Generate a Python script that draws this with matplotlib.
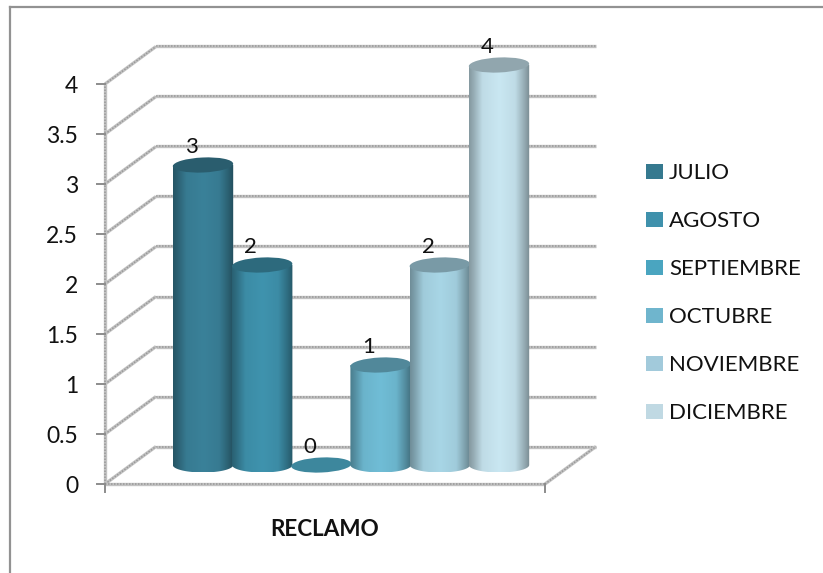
import numpy as np
import matplotlib
matplotlib.use('Agg')
import matplotlib.pyplot as plt
from matplotlib.patches import Ellipse, PathPatch, Rectangle
from matplotlib.path import Path
from matplotlib.colors import LinearSegmentedColormap, to_rgb
from matplotlib.transforms import Affine2D

plt.rcParams['font.family'] = ['Lato', 'DejaVu Sans']

# datos
meses = ['JULIO', 'AGOSTO', 'SEPTIEMBRE', 'OCTUBRE', 'NOVIEMBRE', 'DICIEMBRE']
reclamos = [3, 2, 0, 1, 2, 4]
yticks = [0, 0.5, 1, 1.5, 2, 2.5, 3, 3.5, 4]
ytick_labels = ['0', '0.5', '1', '1.5', '2', '2.5', '3', '3.5', '4']
colores = ['#35798f', '#3f91ac', '#4aa5c0', '#6fb5cd', '#a2cadb', '#c0d9e3']
colores_cuerpo = ['#3a8199', '#3f93ae', '#4aa5c0', '#70bdd6', '#a8d6e6', '#c9e7f2']
categoria = 'RECLAMO'

W, H = 823, 573
fig = plt.figure(figsize=(W / 100, H / 100), dpi=100)
ax = fig.add_axes([0, 0, 1, 1])

# escala: y en unidades del dato (100 px por unidad), x en posiciones de barra
PX_X = 59.2
PX_Y = 100.0
X0 = 203.0
Y0 = 484.0


def fijar_limites():
    ax.set_xlim(-X0 / PX_X, (W - X0) / PX_X)
    ax.set_ylim((Y0 - H) / PX_Y, Y0 / PX_Y)


fijar_limites()
ax.axis('off')

# caja 3d
x_front_l = (105 - X0) / PX_X
x_front_r = (545 - X0) / PX_X
dx = 51 / PX_X
dy = 37.5 / PX_Y
GRID = '#c2c2c2'
GRID_EDGE = '#989898'
TXT = '#111111'


def linea(xs, ys, lw=2.4, z=1):
    ax.plot(xs, ys, color=GRID, lw=lw, solid_capstyle='butt', zorder=z)
    ax.plot(xs, ys, color=GRID_EDGE, lw=lw * 0.45, ls=(0, (1, 1)), zorder=z)


for v, lab in zip(yticks, ytick_labels):
    linea([x_front_l + dx, x_front_r + dx], [v + dy, v + dy])
    linea([x_front_l, x_front_l + dx], [v, v + dy])
    ax.plot([x_front_l - 8 / PX_X, x_front_l], [v, v], color='#8c8c8c', lw=1.4, zorder=2)
    ax.text(x_front_l - 27 / PX_X, v - 0.025, lab, fontsize=16.5,
            ha='right', va='center', color=TXT)

linea([x_front_l, x_front_l], [0, yticks[-1]])
linea([x_front_l, x_front_r], [0, 0])
linea([x_front_r, x_front_r + dx], [0, dy])
ax.plot([x_front_l, x_front_l], [0, -8 / PX_Y], color='#8c8c8c', lw=1.4, zorder=2)
ax.plot([x_front_r, x_front_r], [0, -8 / PX_Y], color='#8c8c8c', lw=1.4, zorder=2)

# cilindros
ancho = 1.02
ry = 7.5 / PX_Y
base = 19 / PX_Y
GRAD = np.linspace(0, 1, 256).reshape(1, -1)


def oscurecer(c, f):
    return tuple(np.array(to_rgb(c)) * f)


for i, (v, c) in enumerate(zip(reclamos, colores_cuerpo)):
    z = 3 + i
    izq, der = i - ancho / 2, i + ancho / 2
    sup = v + base
    if v > 0:
        # cuerpo: lados rectos y arco inferior
        t = np.linspace(np.pi, 2 * np.pi, 40)
        xs = i + ancho / 2 * np.cos(t)
        ys = base + ry * np.sin(t)
        verts = [(izq, sup)] + list(zip(xs, ys)) + [(der, sup), (izq, sup)]
        codes = [Path.MOVETO] + [Path.LINETO] * (len(verts) - 2) + [Path.CLOSEPOLY]
        cmap = LinearSegmentedColormap.from_list('cil', [
            (0.0, oscurecer(c, 0.66)),
            (0.07, oscurecer(c, 0.74)),
            (0.22, oscurecer(c, 0.95)),
            (0.50, c),
            (0.76, oscurecer(c, 0.95)),
            (0.91, oscurecer(c, 0.74)),
            (1.0, oscurecer(c, 0.60)),
        ])
        im = ax.imshow(GRAD, extent=(izq, der, base - ry, sup), cmap=cmap,
                       aspect='auto', zorder=z, interpolation='bilinear')
        clip = PathPatch(Path(verts, codes), transform=ax.transData, fc='none', ec='none')
        ax.add_patch(clip)
        im.set_clip_path(clip)
    # tapa superior, algo inclinada
    tr = (Affine2D().scale(PX_X, PX_Y).rotate_deg(2.5).scale(1 / PX_X, 1 / PX_Y)
          .translate(i, sup))
    tapa = oscurecer(c, 0.72) if v > 0 else oscurecer(c, 0.82)
    ax.add_patch(Ellipse((0, 0), ancho, 2 * ry, fc=tapa, ec='none',
                         transform=tr + ax.transData, zorder=z + 0.5))
    # etiqueta de valor
    ax.text(i - 11.5 / PX_X, v + 0.37, str(v), fontsize=16, ha='center', va='center',
            color=TXT, zorder=20)

# imshow toca los limites
fijar_limites()

# leyenda
for i, (m, c) in enumerate(zip(meses, colores)):
    y_px = 173 + i * 48
    fig.patches.append(Rectangle((646 / W, 1 - (y_px + 6) / H), 17 / W, 15 / H,
                                 transform=fig.transFigure, fc=c, ec='none'))
    fig.text(669 / W, 1 - y_px / H, m, fontsize=16, ha='left', va='center', color=TXT)

# titulo de categoria
ax.text((325 - X0) / PX_X, (Y0 - 529) / PX_Y, categoria, fontsize=16.2, fontweight='bold',
        ha='center', va='center', color=TXT)

# marco exterior
for xs, ys in [([10, 10], [7, 573]), ([10, 823], [7, 7])]:
    fig.add_artist(plt.Line2D([x / W for x in xs], [1 - y / H for y in ys],
                              color='#929292', lw=1.6))

fig.savefig('out.png', dpi=100, facecolor='white')
